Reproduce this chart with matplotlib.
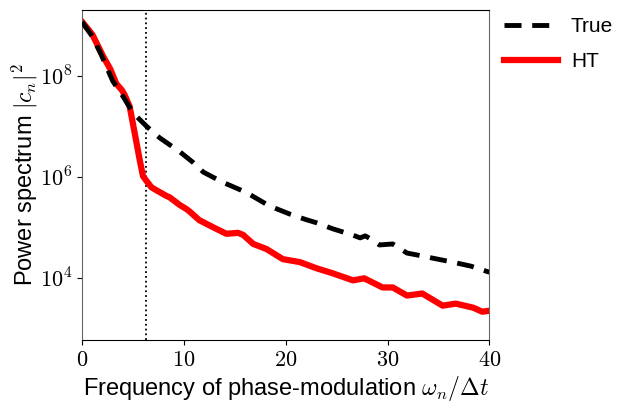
import numpy as np
import matplotlib.pyplot as plt
from matplotlib.ticker import FixedLocator, FuncFormatter, NullLocator

plt.rcParams['font.family'] = ['Liberation Sans', 'DejaVu Sans']
plt.rcParams['mathtext.fontset'] = 'cm'

# frequency samples and log10 of the power spectrum
freq_true = [0.0, 1.0, 1.87, 3.0, 4.0, 5.0, 6.3, 7.6, 9.6, 10.9, 11.9, 13.8, 16.1,
             18.4, 20.4, 22.0, 23.0, 24.6, 26.5, 27.3, 27.8, 28.5, 29.2, 30.5, 31.9,
             33.2, 34.4, 36.4, 38.2, 40.0]
logp_true = [9.07, 8.78, 8.42, 7.9, 7.6, 7.27, 7.01, 6.78, 6.5, 6.29, 6.1, 5.9, 5.7,
             5.43, 5.27, 5.16, 5.1, 4.98, 4.86, 4.8, 4.84, 4.76, 4.66, 4.68, 4.5,
             4.45, 4.4, 4.32, 4.24, 4.12]

freq_ht = [0.0, 1.0, 2.03, 2.75, 3.35, 3.9, 4.16, 4.66, 5.15, 5.64, 5.97, 6.3, 6.8,
           7.3, 8.27, 8.6, 9.58, 10.24, 10.56, 11.5, 12.86, 14.17, 15.3, 15.8, 16.8,
           18.1, 19.7, 21.4, 23.0, 24.6, 26.6, 27.7, 29.5, 30.5, 31.9, 33.4, 35.4,
           36.7, 38.4, 39.3, 40.0]
logp_ht = [9.07, 8.82, 8.4, 8.14, 7.85, 7.72, 7.63, 7.4, 6.88, 6.35, 6.02, 5.93, 5.8,
           5.74, 5.63, 5.6, 5.45, 5.37, 5.32, 5.15, 5.01, 4.88, 4.9, 4.86, 4.68,
           4.58, 4.38, 4.32, 4.2, 4.1, 3.96, 4.0, 3.82, 3.82, 3.66, 3.7, 3.46,
           3.5, 3.42, 3.34, 3.36]

cutoff = 2 * np.pi

fig, ax = plt.subplots(figsize=(6.18, 4.01), dpi=100)
fig.subplots_adjust(left=0.133, right=0.792, top=0.975, bottom=0.152)

ax.plot(freq_ht, 10 ** np.array(logp_ht), color='red', lw=4.5, label='HT', zorder=2,
        solid_joinstyle='round')
ax.plot(freq_true, 10 ** np.array(logp_true), color='black', lw=3.5, ls=(0, (3.5, 2.2)),
        label='True', zorder=3, dash_joinstyle='round')
ax.axvline(cutoff, color='black', ls=':', lw=1.3, zorder=1)

ax.set_yscale('log')
ax.set_xlim(0, 40)
ax.set_ylim(10 ** 2.78, 10 ** 9.305)
ax.yaxis.set_major_locator(FixedLocator([1e4, 1e6, 1e8]))
ax.yaxis.set_minor_locator(NullLocator())
ax.yaxis.set_major_formatter(FuncFormatter(lambda v, p: r'$10^{%d}$' % round(np.log10(v))))
ax.set_xticks([0, 10, 20, 30, 40])
ax.xaxis.set_major_formatter(FuncFormatter(lambda v, p: r'$%d$' % v))
ax.tick_params(labelsize=16)

ax.spines['left'].set_color('#666666')
ax.spines['right'].set_color('#666666')

ax.set_xlabel(r'Frequency of phase-modulation $\omega_n/\Delta t$', fontsize=17, labelpad=2)
ax.set_ylabel(r'Power spectrum $|c_n|^2$', fontsize=17, labelpad=0)

handles, labels = ax.get_legend_handles_labels()
ax.legend(handles[::-1], labels[::-1], loc='upper left', bbox_to_anchor=(0.99, 1.035),
          frameon=False, fontsize=15, handlelength=2.6, handletextpad=0.6,
          labelspacing=0.75)

fig.savefig('out.png', dpi=100)
